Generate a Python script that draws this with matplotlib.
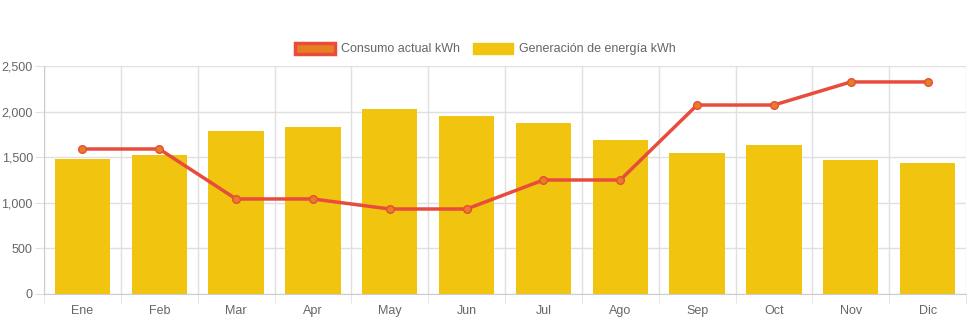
import numpy as np
import matplotlib
matplotlib.use('Agg')
import matplotlib.pyplot as plt
from matplotlib.patches import Patch
from matplotlib.ticker import FuncFormatter

months = ['Ene', 'Feb', 'Mar', 'Apr', 'May', 'Jun', 'Jul', 'Ago', 'Sep', 'Oct', 'Nov', 'Dic']
generacion = [1480, 1525, 1787, 1831, 2028, 1952, 1875, 1690, 1546, 1634, 1469, 1436]
consumo = [1590, 1590, 1042, 1042, 932, 932, 1250, 1250, 2072, 2072, 2325, 2325]

plt.rcParams['font.family'] = ['Liberation Sans', 'DejaVu Sans']
grid_col = '#e0e0e0'
text_col = '#666666'

fig = plt.figure(figsize=(9.71, 3.23), dpi=100)
ax = fig.add_axes([44/971, 29/323, 922/971, 228/323])

x = np.arange(len(months))
ax.bar(x, generacion, width=0.72, color='#f1c40f', zorder=2)
ax.plot(x, consumo, color='#e74c3c', lw=2.5, marker='o', ms=5.5,
        mfc='#e67e22', mec='#e74c3c', mew=1, zorder=3)

ax.set_xlim(-0.5, len(months) - 0.5)
ax.set_ylim(0, 2500)
ax.set_yticks(np.arange(0, 2501, 500))
ax.yaxis.set_major_formatter(FuncFormatter(lambda v, p: f'{int(v):,}'))
ax.set_xticks(x)
ax.set_xticklabels(months)
ax.set_xticks(np.arange(-0.5, len(months)), minor=True)

ax.grid(axis='y', color=grid_col, lw=1, zorder=0)
ax.grid(axis='x', which='minor', color=grid_col, lw=1, zorder=0)
ax.tick_params(axis='x', which='major', length=0, pad=8, labelcolor=text_col, labelsize=9)
ax.tick_params(axis='x', which='minor', length=6.5, color=grid_col)
ax.tick_params(axis='y', length=6.5, color=grid_col, labelcolor=text_col, labelsize=9, pad=1.5)
for s in ['top', 'right']:
    ax.spines[s].set_visible(False)
ax.spines['left'].set_color('#cccccc')
ax.spines['bottom'].set_color('#cccccc')

handles = [Patch(facecolor='#e67e22', edgecolor='#e74c3c', lw=2.5),
           Patch(facecolor='#f1c40f', edgecolor='#f1c40f')]
leg = fig.legend(handles, ['Consumo actual kWh', 'Generación de energía kWh'],
                 loc='center', bbox_to_anchor=(0.5, 1 - 49/323), ncol=2, frameon=False,
                 fontsize=9, labelcolor=text_col, handlelength=3.2, handleheight=1.0,
                 columnspacing=1.0, handletextpad=0.5)

fig.savefig('out.png', dpi=100)
